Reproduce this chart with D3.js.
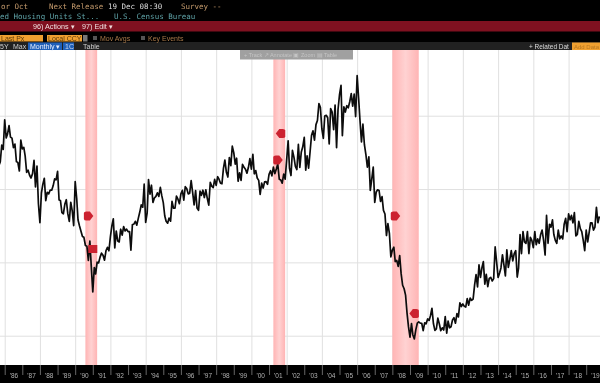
<!DOCTYPE html>
<html>
<head>
<meta charset="utf-8">
<script src="https://cdn.jsdelivr.net/npm/d3@7"></script>
<style>
html, body { margin: 0; padding: 0; background: #000; overflow: hidden; }
svg { display: block; filter: blur(0.35px); }
.mono { font-family: "DejaVu Sans Mono", monospace; font-size: 7.5px; }
.sans { font-family: "Liberation Sans", Arial, sans-serif; font-size: 7px; }
</style>
</head>
<body>
<script>
// housing units, thousands, monthly
var seriesStart = "1985-09";
var y1985 = [1660, 1684, 1800, 1770];
var y1986 = [1972, 1848, 1876, 1933, 1854, 1847, 1782, 1807, 1687, 1681, 1623, 1833];
var y1987 = [1774, 1784, 1726, 1614, 1628, 1594, 1575, 1605, 1695, 1515, 1656, 1400];
var y1988 = [1271, 1473, 1532, 1573, 1421, 1478, 1467, 1493, 1492, 1522, 1569, 1563];
var y1989 = [1621, 1425, 1422, 1339, 1331, 1397, 1427, 1332, 1279, 1410, 1351, 1251];
var y1990 = [1551, 1437, 1289, 1248, 1212, 1177, 1171, 1115, 1110, 1014, 1145, 969];
var y1991 = [798, 965, 921, 1001, 996, 1036, 1063, 1049, 1015, 1079, 1103, 1079];
var y1992 = [1176, 1250, 1297, 1099, 1214, 1145, 1139, 1226, 1186, 1244, 1214, 1227];
var y1993 = [1210, 1210, 1083, 1258, 1260, 1280, 1254, 1300, 1343, 1392, 1376, 1533];
var y1994 = [1272, 1337, 1564, 1465, 1526, 1409, 1439, 1450, 1474, 1450, 1511, 1455];
var y1995 = [1407, 1316, 1280, 1267, 1302, 1281, 1416, 1369, 1369, 1452, 1431, 1400];
var y1996 = [1467, 1491, 1424, 1516, 1504, 1467, 1472, 1557, 1475, 1392, 1489, 1370];
var y1997 = [1355, 1486, 1457, 1492, 1442, 1494, 1437, 1390, 1546, 1520, 1510, 1566];
var y1998 = [1525, 1584, 1567, 1540, 1536, 1641, 1698, 1614, 1582, 1715, 1660, 1792];
var y1999 = [1748, 1670, 1710, 1553, 1611, 1559, 1669, 1648, 1635, 1608, 1648, 1708];
var y2000 = [1636, 1737, 1604, 1626, 1575, 1559, 1463, 1541, 1507, 1549, 1551, 1532];
var y2001 = [1600, 1625, 1590, 1649, 1605, 1636, 1670, 1567, 1562, 1540, 1602, 1568];
var y2002 = [1698, 1829, 1642, 1592, 1764, 1717, 1655, 1633, 1804, 1648, 1753, 1788];
var y2003 = [1853, 1629, 1726, 1643, 1751, 1867, 1897, 1833, 1939, 1967, 2083, 2057];
var y2004 = [1911, 1846, 1998, 2003, 1986, 1807, 2049, 2024, 1905, 2072, 1782, 2042];
var y2005 = [2144, 2207, 1864, 2061, 2025, 2068, 2054, 2095, 2151, 2065, 2147, 1994];
var y2006 = [2273, 2119, 1969, 1821, 1942, 1802, 1737, 1650, 1720, 1491, 1570, 1649];
var y2007 = [1409, 1480, 1495, 1490, 1415, 1448, 1354, 1330, 1183, 1264, 1197, 1037];
var y2008 = [1084, 1103, 1005, 1013, 973, 1046, 923, 844, 820, 777, 652, 560];
var y2009 = [490, 582, 505, 478, 540, 585, 594, 586, 585, 534, 588, 581];
var y2010 = [614, 604, 636, 687, 583, 536, 546, 620, 580, 534, 554, 539];
var y2011 = [630, 517, 600, 554, 561, 608, 623, 585, 650, 628, 724, 699];
var y2012 = [717, 700, 695, 753, 708, 757, 741, 749, 847, 917, 833, 983];
var y2013 = [898, 965, 1005, 852, 919, 835, 891, 898, 873, 889, 1105, 1003];
var y2014 = [897, 927, 962, 1052, 985, 908, 1085, 966, 1020, 1080, 1010, 1060];
var y2015 = [1080, 900, 960, 1190, 1060, 1210, 1140, 1130, 1210, 1060, 1170, 1150];
var y2016 = [1100, 1210, 1120, 1160, 1130, 1190, 1220, 1150, 1050, 1320, 1130, 1260];
var y2017 = [1240, 1290, 1190, 1150, 1130, 1220, 1160, 1180, 1160, 1260, 1300, 1210];
var y2018 = [1330, 1290, 1320, 1270, 1340, 1180, 1190, 1280, 1230, 1210, 1150, 1080];
var y2019 = [1220, 1140, 1200, 1270, 1270, 1220, 1240, 1375, 1270, 1314];

var recessions = [["1990-08", "1991-04"], ["2001-04", "2001-12"], ["2008-01", "2009-07"]];
// key event flags: month, level, side the flag points to
var eventDates = ["1990-10", "1991-01", "2001-09", "2001-07", "2008-03", "2009-04"];
var eventLevels = [1316, 1091, 1879, 1698, 1316, 651];
var eventSides = [1, 0, -1, 1, 1, -1];
var gridLevels = [500, 1000, 1500, 2000];

var parseMonth = d3.timeParse("%Y-%m");

var width = 600,
    height = 383;

var plotTop = 50,
    plotBottom = 365;

var values = [].concat(y1985, y1986, y1987, y1988, y1989, y1990, y1991, y1992, y1993,
    y1994, y1995, y1996, y1997, y1998, y1999, y2000, y2001, y2002, y2003, y2004, y2005,
    y2006, y2007, y2008, y2009, y2010, y2011, y2012, y2013, y2014, y2015, y2016, y2017,
    y2018, y2019);
var data = values.map((v, i) => ({ date: d3.timeMonth.offset(parseMonth(seriesStart), i), value: v }));

var x = d3.scaleTime()
    .domain([new Date(1986, 0, 1), new Date(2019, 0, 1)])
    .range([4.7, 586.2]);
var y = d3.scaleLinear()
    .domain([500, 2000])
    .range([335.7, 115.7]);

var svg = d3.select("body").append("svg")
    .attr("width", width)
    .attr("height", height)
    .attr("viewBox", [0, 0, width, height]);

var defs = svg.append("defs");
var grad = defs.append("linearGradient").attr("id", "band");
grad.append("stop").attr("offset", "0%").attr("stop-color", "#ffb4b4");
grad.append("stop").attr("offset", "50%").attr("stop-color", "#ffd2d2");
grad.append("stop").attr("offset", "100%").attr("stop-color", "#ffb4b4");

// page background
svg.append("rect").attr("width", width).attr("height", height).attr("fill", "#000");
svg.append("rect").attr("y", plotTop).attr("width", width).attr("height", plotBottom - plotTop).attr("fill", "#fff");

// grid
var gridX = svg.append("g")
    .attr("transform", `translate(0,${plotBottom})`)
    .call(d3.axisBottom(x)
        .ticks(d3.timeYear.every(2))
        .tickSize(-(plotBottom - plotTop))
        .tickFormat(""));
gridX.select(".domain").remove();
gridX.selectAll("line").attr("stroke", "#e0e0e0");

var gridY = svg.append("g")
    .call(d3.axisLeft(y)
        .tickValues(gridLevels)
        .tickSize(-width)
        .tickFormat(""));
gridY.select(".domain").remove();
gridY.selectAll("line").attr("stroke", "#e0e0e0");

// recession bands
svg.append("g").selectAll("rect")
    .data(recessions)
    .join("rect")
    .attr("x", d => x(parseMonth(d[0])))
    .attr("width", d => x(parseMonth(d[1])) - x(parseMonth(d[0])))
    .attr("y", plotTop)
    .attr("height", plotBottom - plotTop)
    .attr("fill", "url(#band)");

var line = d3.line()
    .x(d => x(d.date))
    .y(d => y(d.value));

svg.append("path")
    .datum(data)
    .attr("fill", "none")
    .attr("stroke", "#0c0c0c")
    .attr("stroke-width", 1.7)
    .attr("stroke-linejoin", "round")
    .attr("d", line);

// event flags
var flagRight = "M-4.5,-3Q-4.5,-4.5 -2,-4.5L1.5,-4.5L5,0L1.5,4.5L-2,4.5Q-4.5,4.5 -4.5,3Z",
    flagLeft = "M4.5,-3Q4.5,-4.5 2,-4.5L-1.5,-4.5L-5,0L-1.5,4.5L2,4.5Q4.5,4.5 4.5,3Z",
    flagBox = "M-4.5,-4L4.5,-4L4.5,4L-4.5,4Z";
svg.append("g").selectAll("path")
    .data(eventDates)
    .join("path")
    .attr("transform", (d, i) => `translate(${x(parseMonth(d))},${y(eventLevels[i])})`)
    .attr("d", (d, i) => eventSides[i] > 0 ? flagRight : eventSides[i] < 0 ? flagLeft : flagBox)
    .attr("fill", "#cc2230");

// time axis strip
var yearTicks = svg.append("g")
    .attr("transform", `translate(0,${plotBottom})`)
    .call(d3.axisBottom(x)
        .ticks(d3.timeYear.every(1))
        .tickSize(10)
        .tickFormat(""));
yearTicks.select(".domain").remove();
yearTicks.selectAll("line").attr("stroke", "#666");

var yearLabels = svg.append("g")
    .attr("transform", `translate(0,${plotBottom})`)
    .call(d3.axisBottom(x)
        .tickValues(d3.range(1986, 2020).map(v => new Date(v, 6, 1)))
        .tickSize(0)
        .tickPadding(8)
        .tickFormat(d => "'" + d3.timeFormat("%y")(d)));
yearLabels.select(".domain").remove();
yearLabels.selectAll("text")
    .attr("fill", "#b0b0b0")
    .attr("font-family", "Liberation Sans, Arial, sans-serif")
    .attr("font-size", 6.5);

// terminal chrome
svg.append("rect").attr("y", 21).attr("width", width).attr("height", 10.5).attr("fill", "#7f1120");
svg.append("rect").attr("y", 42).attr("width", width).attr("height", 8).attr("fill", "#212121");

function box(bx, by, w, h, color) {
    svg.append("rect").attr("x", bx).attr("y", by).attr("width", w).attr("height", h).attr("fill", color);
}
function label(tx, ty, str, color, cls, anchor, size) {
    var t = svg.append("text").attr("class", cls || "sans").attr("x", tx).attr("y", ty)
        .attr("fill", color).attr("text-anchor", anchor || "start").text(str);
    if (size) t.style("font-size", size + "px");
}

label(1, 9, "or Oct", "#c49a6c", "mono");
label(49, 9, "Next Release", "#c49a6c", "mono");
label(108, 9, "19 Dec 08:30", "#dcdcdc", "mono");
label(181, 9, "Survey --", "#c49a6c", "mono");
label(0, 19, "ed Housing Units St...", "#5fa3a8", "mono");
label(114, 19, "U.S. Census Bureau", "#5fa3a8", "mono");

label(33, 29, "96) Actions \u25BE", "#f0e0e0", "sans", "start", 7.2);
label(82, 29, "97) Edit \u25BE", "#f0e0e0", "sans", "start", 7.2);

box(0, 35, 43, 6.5, "#f0a030");
box(47, 35, 35, 6.5, "#f0a030");
box(83, 35, 4.5, 6.5, "#777");
box(93, 36, 4, 4, "#555");
box(141, 36, 4, 4, "#555");
label(1, 41, "Last Px", "#5a3a08");
label(48, 41, "Local CCY", "#5a3a08");
label(100, 41, "Mov Avgs", "#a8794a");
label(148, 41, "Key Events", "#a8794a");

box(28, 42.5, 34, 7.5, "#1f5fb8");
box(63, 42.5, 11, 7.5, "#1f5fb8");
label(0, 49, "5Y", "#cfcfcf");
label(13, 49, "Max", "#cfcfcf");
label(30, 49, "Monthly \u25BE", "#e8eefc");
label(65, 49, "1C", "#c8d6f0");
label(83, 49, "Table", "#cfcfcf");
label(529, 49, "+ Related Dat", "#dcdcdc", "sans", "start", 6.5);
box(572, 42.5, 28, 7.5, "#f0a030");
label(574, 49, "Add Data", "#b87820", "sans", "start", 6);

// greyed out chart toolbar
box(240, 50, 113, 9.5, "#a0a0a0");
label(244, 57, "+ Track  \u2197 Annotate  \u25A3 Zoom  \u25A4 Table", "#c4c4c4", "sans", "start", 5.5);
</script>
</body>
</html>
